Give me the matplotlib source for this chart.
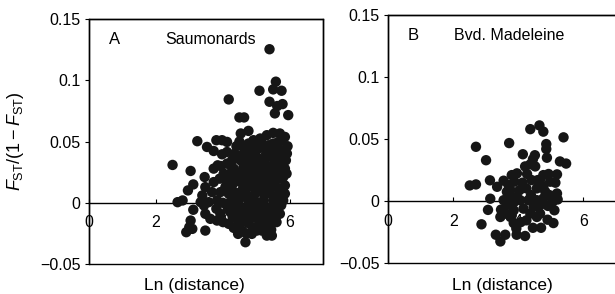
import numpy as np
import matplotlib.pyplot as plt
from matplotlib.patches import Rectangle

plt.rcParams['font.family'] = ['Liberation Sans', 'DejaVu Sans']
plt.rcParams['mathtext.fontset'] = 'custom'
plt.rcParams['mathtext.rm'] = 'Liberation Sans'
plt.rcParams['mathtext.it'] = 'Liberation Sans:italic'

# panel A - Saumonards
sau_x = [5.40, 5.59, 5.51, 5.76, 5.10, 5.40, 5.63, 5.79, 5.56, 5.96, 4.18, 4.50, 4.64, 4.54, 4.77,
         2.50, 3.24, 3.04, 2.65, 2.80, 2.96, 3.12, 3.12, 3.46, 3.04, 3.00, 3.09, 2.91, 3.48, 3.53,
         3.73, 3.81, 3.98, 4.13, 3.98, 4.13, 4.41, 4.41, 4.28, 3.73, 3.85, 3.48, 3.39, 3.34, 3.44,
         3.58, 3.68, 3.73, 3.91, 3.93, 3.83, 3.81, 3.83, 4.01, 4.18, 4.46, 4.68, 4.33, 4.58, 4.77,
         5.02, 5.32, 5.47, 4.74, 5.07, 5.22, 5.51, 5.71, 5.66, 5.81, 5.86, 5.86, 5.81, 5.86, 5.89,
         5.92, 5.94, 5.86, 5.71, 5.51, 5.32, 5.12, 4.92, 4.77, 4.62, 4.33, 4.23, 4.33, 4.28, 4.18,
         4.33, 4.28, 4.23, 4.43, 4.52, 4.48, 4.58, 4.53, 4.48, 4.62, 4.77, 4.92, 5.07, 5.22, 5.37,
         5.51, 5.66, 5.61, 5.46, 5.32, 5.22, 5.02, 4.92, 4.82, 4.72, 4.77, 4.72, 4.77, 4.92, 5.02,
         4.97, 5.02, 5.07, 5.12, 5.32, 5.42, 5.56, 5.71, 5.76, 5.66, 5.56, 5.61, 5.66, 5.51, 5.42,
         5.32, 5.27, 5.37, 5.22, 5.17, 5.42, 5.61, 5.32, 4.92, 4.87, 5.17, 4.92, 4.62, 4.08, 4.03,
         4.13, 4.53, 3.48, 5.51, 5.81, 5.76, 5.91, 5.66, 5.17, 4.87, 3.93, 3.63,
         4.20, 4.30, 4.40, 4.45, 4.55, 4.60, 4.65, 4.70, 4.75, 4.80, 4.85, 4.90, 4.95, 5.00, 5.05,
         5.10, 5.15, 5.20, 5.25, 5.30, 5.35, 5.40, 5.45, 5.50, 5.55, 5.60, 5.65, 5.70, 5.75, 5.80,
         4.35, 4.50, 4.25, 4.15, 4.10, 4.60, 4.70, 4.95, 5.05, 5.15, 5.25, 5.35, 5.45, 5.55, 5.65,
         5.45, 4.85, 4.65, 4.40, 4.55, 5.00, 5.10, 4.80, 5.30, 5.60, 4.90, 5.20, 4.00, 3.95, 5.75]
sau_y = [0.1254, 0.0989, 0.0926, 0.0915, 0.0915, 0.0825, 0.0790, 0.0806, 0.0730, 0.0716, 0.0844,
         0.0697, 0.0697, 0.0566, 0.0587, 0.0309, 0.0503, 0.0260, 0.0005, 0.0019, 0.0101, 0.0150,
         -0.0057, 0.0210, -0.0145, -0.0199, -0.0213, -0.0240, -0.0227, 0.0456, 0.0423, 0.0511,
         0.0511, 0.0497, 0.0396, 0.0415, 0.0462, 0.0388, 0.0347, 0.0279, 0.0306, 0.0128, 0.0060,
         0.0005, -0.0022, 0.0005, 0.0087, 0.0169, 0.0197, 0.0087, 0.0019, -0.0049, -0.0145,
         -0.0158, -0.0172, -0.0254, -0.0322, -0.0205, -0.0227, -0.0167, -0.0227, -0.0268, -0.0268,
         -0.0117, -0.0139, -0.0090, -0.0090, -0.0090, -0.0036, 0.0019, 0.0074, 0.0142, 0.0210,
         0.0279, 0.0347, 0.0402, 0.0462, 0.0538, 0.0566, 0.0571, 0.0552, 0.0525, 0.0511, 0.0484,
         0.0402, 0.0279, 0.0238, 0.0183, 0.0142, 0.0074, 0.0046, -0.0022, -0.0077, -0.0117,
         -0.0036, 0.0019, 0.0101, 0.0169, 0.0238, 0.0292, 0.0347, 0.0402, 0.0443, 0.0456, 0.0470,
         0.0484, 0.0497, 0.0429, 0.0402, 0.0374, 0.0320, 0.0374, 0.0320, 0.0265, 0.0210, 0.0128,
         0.0060, -0.0008, -0.0063, 0.0005, 0.0074, 0.0142, 0.0210, 0.0265, 0.0238, 0.0292, 0.0347,
         0.0374, 0.0306, 0.0251, 0.0183, 0.0128, 0.0060, 0.0019, -0.0036, 0.0074, 0.0142, 0.0169,
         0.0019, -0.0036, -0.0145, -0.0158, -0.0199, 0.0019, 0.0183, 0.0087, -0.0117, -0.0090,
         0.0128, 0.0238, 0.0320, 0.0347, -0.0090, 0.0251, 0.0429, 0.0511, 0.0238, 0.0019, -0.0227,
         -0.0254, -0.0090, -0.0131,
         0.0000, -0.0120, 0.0080, -0.0180, 0.0250, -0.0150, 0.0150, 0.0300, -0.0050, 0.0400,
         0.0050, -0.0200, 0.0250, 0.0450, -0.0100, 0.0350, 0.0000, 0.0200, -0.0150, 0.0400,
         0.0100, -0.0050, 0.0300, 0.0450, 0.0050, -0.0100, 0.0350, 0.0200, -0.0020, 0.0120,
         0.0400, 0.0500, 0.0300, -0.0050, 0.0180, 0.0050, -0.0250, -0.0050, 0.0280, 0.0500,
         0.0080, 0.0300, -0.0220, 0.0220, 0.0450, 0.0120, 0.0220, 0.0450, -0.0060, -0.0080,
         0.0120, -0.0200, -0.0120, -0.0080, 0.0300, 0.0450, 0.0350, 0.0000, 0.0300, 0.0400]

# panel B - Bvd. Madeleine
mad_x = [2.70, 3.01, 2.51, 2.70, 3.13, 3.72, 4.37, 4.65, 4.77, 5.39, 4.86, 4.86, 4.14, 4.51, 4.45,
         4.88, 4.37, 4.52, 5.28, 5.47, 3.14, 3.07, 2.87, 3.55, 3.31, 3.60, 3.45, 3.95, 4.21, 4.45,
         4.70, 5.08, 4.90, 4.57, 5.11, 4.91, 5.21, 5.19, 5.14, 5.19, 4.93, 4.77, 4.98, 4.83, 4.96,
         4.67, 4.57, 4.41, 4.27, 3.96, 3.88, 4.13, 4.25, 4.04, 3.76, 3.65, 3.74, 3.55, 3.65, 3.47,
         3.60, 3.76, 3.86, 4.06, 4.16, 4.31, 4.39, 4.57, 4.67, 4.47, 4.37, 4.25, 4.08, 3.86, 3.80,
         4.67, 4.77, 3.88, 3.96, 3.35, 3.80, 4.21, 4.60, 3.70, 4.77, 5.06, 3.94, 3.45]
mad_y = [0.0438, 0.0330, 0.0127, 0.0135, 0.0168, 0.0468, 0.0580, 0.0610, 0.0560, 0.0514, 0.0460,
         0.0420, 0.0378, 0.0370, 0.0338, 0.0350, 0.0297, 0.0280, 0.0320, 0.0303, 0.0020, -0.0070,
         -0.0186, 0.0165, -0.0270, -0.0270, -0.0324, -0.0270, -0.0280, -0.0214, -0.0214, -0.0176,
         -0.0149, -0.0127, -0.0073, -0.0038, 0.0014, 0.0062, 0.0149, 0.0216, 0.0219, 0.0210,
         0.0157, 0.0076, 0.0049, 0.0170, 0.0103, 0.0170, 0.0219, 0.0224, 0.0157, 0.0149, 0.0103,
         0.0089, 0.0089, 0.0076, 0.0035, 0.0008, -0.0032, -0.0068, -0.0100, -0.0127, -0.0073,
         0.0008, -0.0060, 0.0008, 0.0049, 0.0008, -0.0032, -0.0046, -0.0100, -0.0154, -0.0168,
         -0.0176, -0.0114, -0.0100, 0.0022, -0.0005, 0.0035, 0.0116, 0.0210, 0.0280, 0.0170,
         0.0130, 0.0116, -0.0003, -0.0220, -0.0127]

yticks = [-0.05, 0, 0.05, 0.1, 0.15]
ytick_labels = ['\u22120.05', '0', '0.05', '0.1', '0.15']
xticks = [0, 2, 4, 6]

fig = plt.figure(figsize=(6.15, 2.94), dpi=100)
ax1 = fig.add_axes([0.1447, 0.102, 0.3805, 0.833])
ax2 = fig.add_axes([0.631, 0.1044, 0.3705, 0.845])


def style(ax, xs, ys, letter, site, xlab_x):
    ax.scatter(xs, ys, s=56, color='#161616', edgecolors='none', zorder=3)
    ax.set_xlim(0, 7)
    ax.set_ylim(-0.05, 0.15)
    ax.spines['bottom'].set_position(('data', 0))
    for sp in ['left', 'top', 'right', 'bottom']:
        ax.spines[sp].set_linewidth(1.0)
    # outer frame (bottom edge of the box)
    ax.add_patch(Rectangle((0, 0), 1, 1, transform=ax.transAxes, fill=False,
                           lw=1.0, color='black', clip_on=False, zorder=2))
    ax.set_xticks(xticks)
    ax.set_xticklabels([str(t) for t in xticks])
    ax.set_yticks(yticks)
    ax.set_yticklabels(ytick_labels)
    ax.tick_params(axis='x', direction='in', length=3, pad=9, labelsize=11.5)
    ax.tick_params(axis='y', direction='out', length=3, pad=3, labelsize=11.5)
    ax.text(0.11, 0.915, letter, transform=ax.transAxes, fontsize=12,
            ha='center', va='center')
    ax.text(site[1], 0.915, site[0], transform=ax.transAxes, fontsize=11.5,
            ha='left', va='center')
    ax.text(xlab_x, -0.088, 'Ln (distance)', transform=ax.transAxes,
            fontsize=12.5, ha='center', va='center')


style(ax1, sau_x, sau_y, 'A', ('Saumonards', 0.325), 0.45)
style(ax2, mad_x, mad_y, 'B', ('Bvd. Madeleine', 0.29), 0.50)

ax1.set_ylabel(r'$F_{\mathrm{ST}}/(1 - F_{\mathrm{ST}})$', fontsize=13)
ax1.yaxis.set_label_coords(-0.27, 0.5)

plt.savefig('out.png', dpi=100)
